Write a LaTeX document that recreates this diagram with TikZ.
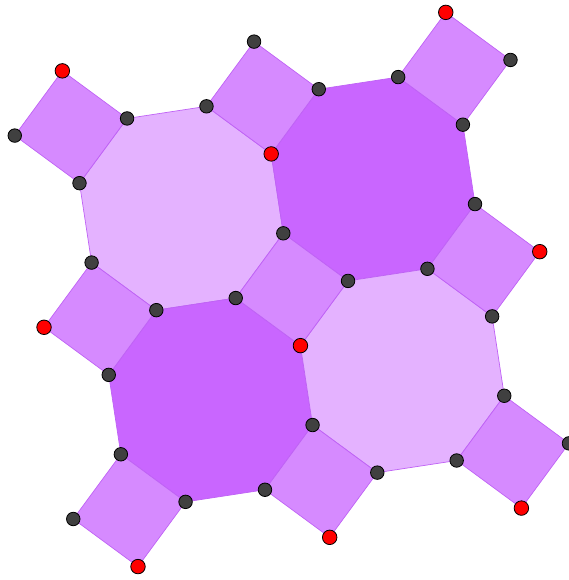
\documentclass[tikz,border=0pt]{standalone}
\definecolor{octlight}{HTML}{E4B2FF}
\definecolor{octdark}{HTML}{C966FF}
\definecolor{sqfill}{HTML}{D68AFF}
\definecolor{edgecol}{HTML}{BF62F5}
\definecolor{dotgray}{HTML}{404040}
\definecolor{dotred}{HTML}{FF0000}
\tikzset{
  lightoctagon/.style={fill=octlight, draw=edgecol, line width=0.7pt, line join=round},
  darkoctagon/.style={fill=octdark, draw=edgecol, line width=0.7pt, line join=round},
  squaretile/.style={fill=sqfill, draw=edgecol, line width=0.7pt, line join=round},
  graydot/.style={circle, fill=dotgray, draw=black, line width=0.8pt, minimum size=13.5pt, inner sep=0pt},
  reddot/.style={circle, fill=dotred, draw=black, line width=0.8pt, minimum size=14.5pt, inner sep=0pt}
}
\begin{document}
\begin{tikzpicture}[x=1pt,y=1pt]
\useasboundingbox (0,0) rectangle (569,-580);
\begin{scope}[shift={(181.4,-208.25)}, x={(0.98857pt,0.15084pt)}, y={(0.15084pt,-0.98857pt)}]
  \foreach \i in {0,1,2}{
    \foreach \j in {0,1,2}{
      \coordinate (S\i\j) at ({(\i-0.5)*193.92},{(\j-0.5)*193.92});
      \coordinate (S\i\j-e) at ({(\i-0.5)*193.92+56.8},{(\j-0.5)*193.92});
      \coordinate (S\i\j-w) at ({(\i-0.5)*193.92-56.8},{(\j-0.5)*193.92});
      \coordinate (S\i\j-n) at ({(\i-0.5)*193.92},{(\j-0.5)*193.92-56.8});
      \coordinate (S\i\j-s) at ({(\i-0.5)*193.92},{(\j-0.5)*193.92+56.8});
    }
  }
\end{scope}
% octagons
\filldraw[lightoctagon] (S00-e) -- (S10-w) -- (S10-s) -- (S11-n) -- (S11-w) -- (S01-e) -- (S01-n) -- (S00-s) -- cycle;
\filldraw[darkoctagon] (S10-e) -- (S20-w) -- (S20-s) -- (S21-n) -- (S21-w) -- (S11-e) -- (S11-n) -- (S10-s) -- cycle;
\filldraw[darkoctagon] (S01-e) -- (S11-w) -- (S11-s) -- (S12-n) -- (S12-w) -- (S02-e) -- (S02-n) -- (S01-s) -- cycle;
\filldraw[lightoctagon] (S11-e) -- (S21-w) -- (S21-s) -- (S22-n) -- (S22-w) -- (S12-e) -- (S12-n) -- (S11-s) -- cycle;
% squares
\foreach \i in {0,1,2}{
  \foreach \j in {0,1,2}{
    \filldraw[squaretile] (S\i\j-n) -- (S\i\j-e) -- (S\i\j-s) -- (S\i\j-w) -- cycle;
  }
}
% points
\foreach \i/\j/\r in {0/0/n,1/0/s,2/0/n,0/1/w,1/1/s,2/1/e,0/2/s,1/2/s,2/2/s}{
  \foreach \d in {n,e,s,w}{
    \edef\tmpa{\d}\edef\tmpb{\r}
    \ifx\tmpa\tmpb\def\dotsty{reddot}\else\def\dotsty{graydot}\fi
    \node[\dotsty] (P\i\j-\d) at (S\i\j-\d) {};
  }
}
\end{tikzpicture}
\end{document}
